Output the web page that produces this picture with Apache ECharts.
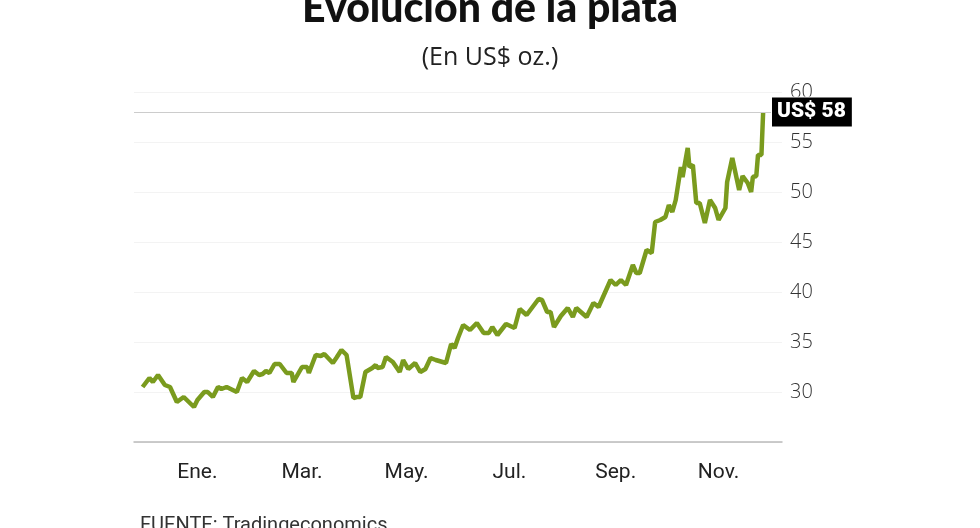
<!DOCTYPE html>
<html>
<head>
<meta charset="utf-8">
<script src="https://cdn.jsdelivr.net/npm/echarts@6/dist/echarts.min.js"></script>
<style>
  html, body { margin: 0; padding: 0; background: #fff; }
  #chart { width: 980px; height: 528px; }
</style>
</head>
<body>
<div id="chart"></div>
<script>
// dias desde el 1 de enero de 2025
var days = [-17, -13, -11, -8, -7, -4, -1, 3, 7, 13, 15, 19, 21, 24, 27, 29, 32, 38, 41, 44,
  48, 51, 53, 55, 57, 60, 63, 67, 70, 71, 76, 79, 80, 84, 87, 89, 94, 96, 99, 102,
  106, 108, 110, 113, 117, 119, 120, 123, 125, 129, 133, 135, 138, 142, 145, 148, 151, 154, 155, 160,
  161, 163, 165, 167, 170, 174, 178, 182, 185, 187, 190, 195, 196, 200, 203, 207, 214, 216, 219, 221,
  223, 227, 231, 234, 236, 242, 246, 249, 256, 259, 262, 265, 269, 271, 273, 277, 280, 282, 285, 288,
  290, 292, 294, 297, 298, 301, 302, 304, 306, 308, 311, 314, 317, 319, 323, 324, 327, 331, 333, 336,
  338, 339, 341, 342, 344, 345];
var prices = [30.5, 31.4, 31.0, 31.7, 31.6, 30.7, 30.5, 29.0, 29.5, 28.5, 29.2, 30.0, 30.0, 29.5, 30.5, 30.3, 30.5, 30.0, 31.4, 31.0,
  32.1, 31.7, 31.8, 32.1, 31.9, 32.8, 32.8, 31.9, 31.9, 31.0, 32.5, 32.5, 31.9, 33.7, 33.6, 33.8, 32.9, 33.4, 34.2, 33.7,
  29.4, 29.5, 29.5, 32.0, 32.4, 32.7, 32.4, 32.5, 33.5, 33.0, 32.0, 33.2, 32.3, 32.9, 32.0, 32.3, 33.4, 33.2, 33.3, 32.9,
  32.9, 34.8, 34.4, 35.4, 36.7, 36.2, 36.9, 35.9, 35.9, 36.5, 35.7, 36.8, 36.9, 36.4, 38.3, 37.7, 39.3, 39.2, 38.0, 38.0,
  36.5, 37.6, 38.4, 37.5, 38.4, 37.5, 38.9, 38.5, 41.2, 40.7, 41.2, 40.7, 42.7, 41.9, 41.9, 44.2, 43.9, 47.0, 47.2, 47.5,
  48.7, 48.0, 49.2, 52.5, 51.5, 54.4, 52.5, 52.7, 48.9, 48.9, 46.9, 49.2, 48.4, 47.2, 48.4, 51.0, 53.4, 50.2, 51.6, 50.9,
  50.0, 51.5, 51.6, 53.7, 53.7, 58.0];
var monthTicks = [15, 76, 137, 197, 259, 319];
var monthNames = ['Ene.', 'Mar.', 'May.', 'Jul.', 'Sep.', 'Nov.'];
var lastPrice = 58;

var chart = echarts.init(document.getElementById('chart'));
var font = "'Liberation Sans Narrow', 'Roboto', sans-serif";
chart.setOption({
  animation: false,
  grid: { left: 134, right: 198, top: 92, bottom: 86 },
  graphic: [
    { type: 'text', left: 'center', top: -12, style: { text: 'Evolución de la plata', font: "900 41px Lato, sans-serif", fill: '#111' } },
    { type: 'text', left: 'center', top: 45, style: { text: '(En US$ oz.)', font: "25px 'Open Sans', sans-serif", fill: '#222' } },
    { type: 'text', left: 140, top: 516, style: { text: 'FUENTE: Tradingeconomics', font: "20px " + font, fill: '#333' } }
  ],
  xAxis: {
    type: 'value', min: -22, max: 356,
    axisLine: { show: true, lineStyle: { color: '#bbb', width: 1.5 } },
    axisTick: { show: false },
    splitLine: { show: false },
    axisLabel: {
      customValues: monthTicks, margin: 20, color: '#222', fontSize: 21, fontFamily: font,
      formatter: function (v) { return monthNames[monthTicks.indexOf(v)] || ''; }
    }
  },
  yAxis: {
    type: 'value', position: 'right', min: 25, max: 60, interval: 5,
    axisLine: { show: false }, axisTick: { show: false },
    splitLine: { lineStyle: { color: '#f3f3f3' } },
    axisLabel: {
      margin: 8, color: '#333', fontSize: 20, fontFamily: "'Open Sans', sans-serif", fontWeight: 300,
      formatter: function (v) { return v === 25 ? '' : v; }
    }
  },
  series: [{
    type: 'line',
    data: days.map(function (d, i) { return [d, prices[i]]; }),
    showSymbol: false,
    lineStyle: { color: '#7a9b1e', width: 4.5 },
    markLine: {
      symbol: 'none', silent: true,
      lineStyle: { color: '#ccc', type: 'solid', width: 1.2 },
      data: [{ yAxis: lastPrice }],
      label: {
        position: 'end', distance: -10, formatter: 'US$ ' + lastPrice,
        backgroundColor: '#000', color: '#fff', fontWeight: 900, fontSize: 21,
        fontFamily: "'Roboto', sans-serif", padding: [5, 6, 3, 5],
        borderColor: '#fff', borderWidth: 1
      }
    }
  }]
});
</script>
</body>
</html>
